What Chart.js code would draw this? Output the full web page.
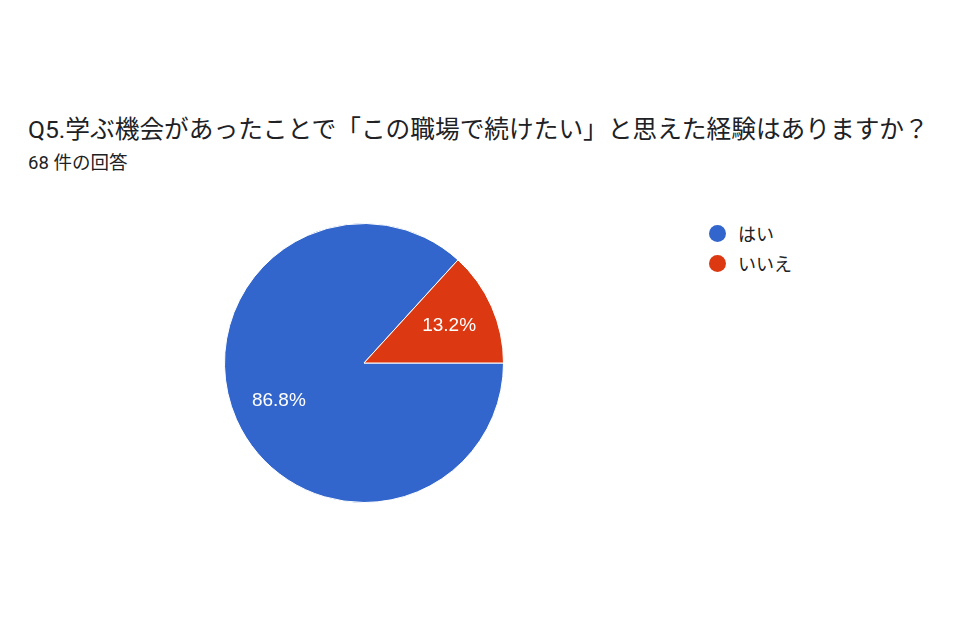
<!DOCTYPE html>
<html>
<head>
<meta charset="utf-8">
<script src="https://cdn.jsdelivr.net/npm/chart.js@4"></script>
<style>
  body { margin: 0; background: #fff; width: 955px; height: 630px; position: relative; overflow: hidden;
         font-family: Roboto, Arial, "Noto Sans CJK JP", sans-serif; color: #202124; }
  #title { position: absolute; left: 28px; top: 116px; font-size: 24.7px; line-height: 28px; white-space: nowrap; }
  #subtitle { position: absolute; left: 28px; top: 153px; font-size: 18.5px; line-height: 20px; }
  #pieBox { position: absolute; left: 224px; top: 223px; width: 280px; height: 280px; }
  #legend { position: absolute; left: 709px; top: 218px; font-size: 18px; }
  .item { display: flex; align-items: center; height: 30px; }
  .dot { width: 17px; height: 17px; border-radius: 50%; margin-right: 12px; }
</style>
</head>
<body>
<div id="title">Q5.学ぶ機会があったことで「この職場で続けたい」と思えた経験はありますか？</div>
<div id="subtitle">68 件の回答</div>
<div id="pieBox"><canvas id="pieChart"></canvas></div>
<div id="legend"></div>
<script>
  const labels = ['はい', 'いいえ'];
  const counts = [59, 9];            // 68 responses: 86.8% / 13.2%
  const colors = ['#3366cc', '#dc3912'];

  const total = counts.reduce((a, b) => a + b, 0);

  // legend on the right, Google Forms style
  const legend = document.getElementById('legend');
  labels.forEach((label, i) => {
    const item = document.createElement('div');
    item.className = 'item';
    item.innerHTML = `<span class="dot" style="background:${colors[i]}"></span><span>${label}</span>`;
    legend.appendChild(item);
  });

  // percentage text inside each slice
  const sliceLabels = {
    id: 'sliceLabels',
    afterDatasetsDraw(chart) {
      const ctx = chart.ctx;
      ctx.save();
      ctx.fillStyle = '#fff';
      ctx.font = '19px Arial, "Liberation Sans", sans-serif';
      ctx.textAlign = 'center';
      ctx.textBaseline = 'middle';
      chart.getDatasetMeta(0).data.forEach((arc, i) => {
        const mid = (arc.startAngle + arc.endAngle) / 2;
        const r = arc.outerRadius * 0.667;
        const pct = (counts[i] / total * 100).toFixed(1) + '%';
        ctx.fillText(pct, arc.x + Math.cos(mid) * r, arc.y + Math.sin(mid) * r);
      });
      ctx.restore();
    }
  };

  const pieCtx = document.getElementById('pieChart').getContext('2d');
  new Chart(pieCtx, {
    type: 'pie',
    data: {
      labels: labels,
      datasets: [{
        data: counts,
        backgroundColor: colors,
        borderColor: '#fff',
        borderWidth: 1
      }]
    },
    options: {
      responsive: true,
      maintainAspectRatio: false,
      animation: false,
      rotation: 90,
      layout: { padding: 0 },
      plugins: {
        legend: { display: false },
        tooltip: { enabled: false }
      }
    },
    plugins: [sliceLabels]
  });
</script>
</body>
</html>
